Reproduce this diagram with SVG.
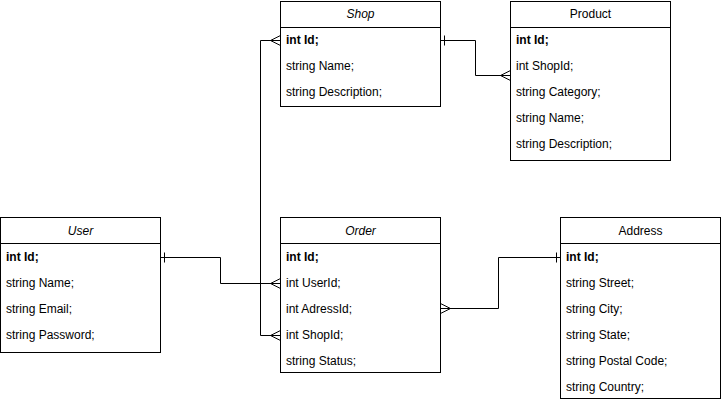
<svg xmlns="http://www.w3.org/2000/svg" width="721" height="403" viewBox="0 0 721 403">
<style>
.box{fill:#ffffff;stroke:#000000;stroke-width:1}
.hl{stroke:#000000;stroke-width:1}
.t{font-family:"Liberation Sans",Arial,sans-serif;font-size:12px;fill:#000000}
.h{text-anchor:middle}
.i{font-style:italic}
.b{font-weight:bold}
.c{fill:none;stroke:#000000;stroke-width:1}
</style>
<rect width="721" height="403" fill="#ffffff"/>
<g id="connectors">
  <path class="c" d="M440.5,40.5 H475.5 V75.5 H510.5"/>
  <path class="c" d="M444.5,35.5 V45.5"/>
  <path class="c" d="M510.5,70.5 L500.5,75.5 L510.5,80.5"/>
  <path class="c" d="M280.5,40.5 H260.5 V335.5 H280.5"/>
  <path class="c" d="M280.5,35.5 L270.5,40.5 L280.5,45.5"/>
  <path class="c" d="M280.5,330.5 L270.5,335.5 L280.5,340.5"/>
  <path class="c" d="M160.5,257.5 H220.5 V283.5 H280.5"/>
  <path class="c" d="M164.5,252.5 V262.5"/>
  <path class="c" d="M280.5,278.5 L270.5,283.5 L280.5,288.5"/>
  <path class="c" d="M440.5,308.5 H498.5 V257.5 H560.5"/>
  <path class="c" d="M440.5,303.5 L450.5,308.5 L440.5,313.5"/>
  <path class="c" d="M556.5,252.5 V262.5"/>
</g>
<g id="shop">
  <rect class="box" x="280.5" y="1.5" width="160" height="105"/>
  <line class="hl" x1="280.5" y1="27.5" x2="440.5" y2="27.5"/>
  <text class="t h i" x="360.5" y="18">Shop</text>
  <text class="t b" x="286" y="44">int Id;</text>
  <text class="t" x="286" y="70">string Name;</text>
  <text class="t" x="286" y="96">string Description;</text>
</g>
<g id="product">
  <rect class="box" x="510.5" y="1.5" width="160" height="159"/>
  <line class="hl" x1="510.5" y1="27.5" x2="670.5" y2="27.5"/>
  <text class="t h" x="590.5" y="18">Product</text>
  <text class="t b" x="516" y="44">int Id;</text>
  <text class="t" x="516" y="70">int ShopId;</text>
  <text class="t" x="516" y="96">string Category;</text>
  <text class="t" x="516" y="122">string Name;</text>
  <text class="t" x="516" y="148">string Description;</text>
</g>
<g id="user">
  <rect class="box" x="0.5" y="217.5" width="160" height="135"/>
  <line class="hl" x1="0.5" y1="243.5" x2="160.5" y2="243.5"/>
  <text class="t h i" x="80.5" y="235">User</text>
  <text class="t b" x="6" y="261">int Id;</text>
  <text class="t" x="6" y="287">string Name;</text>
  <text class="t" x="6" y="313">string Email;</text>
  <text class="t" x="6" y="339">string Password;</text>
</g>
<g id="order">
  <rect class="box" x="280.5" y="217.5" width="160" height="155"/>
  <line class="hl" x1="280.5" y1="243.5" x2="440.5" y2="243.5"/>
  <text class="t h i" x="360.5" y="235">Order</text>
  <text class="t b" x="286" y="261">int Id;</text>
  <text class="t" x="286" y="287">int UserId;</text>
  <text class="t" x="286" y="313">int AdressId;</text>
  <text class="t" x="286" y="339">int ShopId;</text>
  <text class="t" x="286" y="365">string Status;</text>
</g>
<g id="address">
  <rect class="box" x="560.5" y="217.5" width="160" height="181"/>
  <line class="hl" x1="560.5" y1="243.5" x2="720.5" y2="243.5"/>
  <text class="t h" x="640.5" y="235">Address</text>
  <text class="t b" x="566" y="261">int Id;</text>
  <text class="t" x="566" y="287">string Street;</text>
  <text class="t" x="566" y="313">string City;</text>
  <text class="t" x="566" y="339">string State;</text>
  <text class="t" x="566" y="365">string Postal Code;</text>
  <text class="t" x="566" y="391">string Country;</text>
</g>
</svg>
